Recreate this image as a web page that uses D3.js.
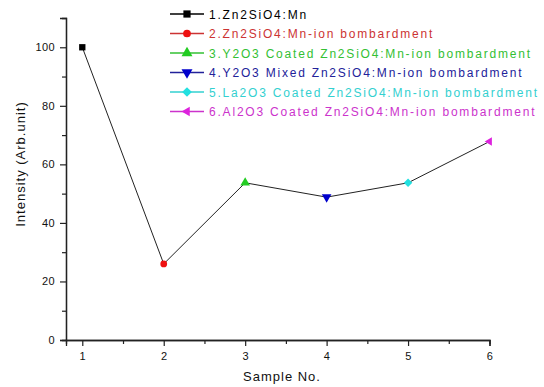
<!DOCTYPE html>
<html>
<head>
<meta charset="utf-8">
<script src="https://cdn.jsdelivr.net/npm/d3@7"></script>
<style>
  body { margin: 0; background: #fff; }
  text { font-family: "Liberation Sans", Arial, sans-serif; }
</style>
</head>
<body>
<div id="chart"></div>
<script>
// data
var samples = [1, 2, 3, 4, 5, 6];
var intensity = [100, 26, 53.7, 48.8, 53.7, 67.8];
var labels = [
  "1.Zn2SiO4:Mn",
  "2.Zn2SiO4:Mn-ion bombardment",
  "3.Y2O3 Coated Zn2SiO4:Mn-ion bombardment",
  "4.Y2O3 Mixed Zn2SiO4:Mn-ion bombardment",
  "5.La2O3 Coated Zn2SiO4:Mn-ion bombardment",
  "6.Al2O3 Coated Zn2SiO4:Mn-ion bombardment"
];
var markerColors = ["#000000", "#ee1111", "#22cc22", "#0000cc", "#22e0e0", "#dd22dd"];
var textColors = ["#000000", "#cc3333", "#33c033", "#22229a", "#33d0d0", "#cc33cc"];
var xTicks = [1, 2, 3, 4, 5, 6];
var yTicks = [0, 20, 40, 60, 80, 100];

var width = 544, height = 387;

var svg = d3.select("#chart").append("svg")
    .attr("width", width)
    .attr("height", height);

var x = d3.scaleLinear().domain([0.8, 6]).range([66, 489.5]);
var y = d3.scaleLinear().domain([0, 110]).range([340, 18]);

// symbols for each sample (diamond = rotated square)
var shapes = [
  { type: d3.symbolSquare, rot: 0, size: 40 },
  { type: d3.symbolCircle, rot: 0, size: 36 },
  { type: d3.symbolTriangle, rot: 0, size: 40 },
  { type: d3.symbolTriangle, rot: 180, size: 40 },
  { type: d3.symbolSquare, rot: 45, size: 36 },
  { type: d3.symbolTriangle, rot: -90, size: 30 }
];

// axes
var yAxis = d3.axisLeft(y).tickValues(yTicks).tickSize(6).tickPadding(5);
var yMinor = d3.axisLeft(y).tickValues([10, 30, 50, 70, 90]).tickSize(4).tickFormat("");
var xAxis = d3.axisBottom(x).tickValues(xTicks).tickSize(6).tickPadding(6).tickFormat(d3.format("d"));
var xMinor = d3.axisBottom(x).tickValues([1.5, 2.5, 3.5, 4.5, 5.5]).tickSize(4).tickFormat("");

function styleAxis(g) {
  g.select(".domain").attr("stroke", "#222").attr("stroke-width", 1.3);
  g.selectAll(".tick line").attr("stroke", "#222").attr("stroke-width", 1.2);
  g.selectAll(".tick text")
    .attr("font-size", 11)
    .attr("fill", "#111")
    .style("letter-spacing", "0.4px")
    .style("font-family", "'Liberation Sans', Arial, sans-serif");
}

svg.append("g").attr("transform", "translate(66,0)").call(yMinor).call(styleAxis);
svg.append("g").attr("transform", "translate(66,0)").call(yAxis).call(styleAxis);
svg.append("g").attr("transform", "translate(0,340)").call(xMinor).call(styleAxis);
svg.append("g").attr("transform", "translate(0,340)").call(xAxis).call(styleAxis);

// axis titles
svg.append("text")
    .attr("x", 282).attr("y", 381)
    .attr("text-anchor", "middle")
    .attr("font-size", 13)
    .style("letter-spacing", "1px")
    .attr("fill", "#111")
    .text("Sample No.");

svg.append("text")
    .attr("transform", "translate(25,164) rotate(-90)")
    .attr("text-anchor", "middle")
    .attr("font-size", 13)
    .style("letter-spacing", "1px")
    .attr("fill", "#111")
    .text("Intensity (Arb.unit)");

// connecting line
var line = d3.line()
    .x(function(d, i) { return x(samples[i]); })
    .y(function(d) { return y(d); });

svg.append("path")
    .datum(intensity)
    .attr("fill", "none")
    .attr("stroke", "#222")
    .attr("stroke-width", 1)
    .attr("d", line);

// markers
svg.selectAll(".pt")
    .data(intensity)
    .enter().append("path")
    .attr("class", "pt")
    .attr("d", function(d, i) { return d3.symbol().type(shapes[i].type).size(shapes[i].size)(); })
    .attr("transform", function(d, i) {
      return "translate(" + x(samples[i]) + "," + y(d) + ") rotate(" + shapes[i].rot + ")";
    })
    .attr("fill", function(d, i) { return markerColors[i]; });

// legend
var legend = svg.append("g");
var rows = legend.selectAll(".row")
    .data(labels)
    .enter().append("g")
    .attr("class", "row")
    .attr("transform", function(d, i) { return "translate(0," + (14 + i * 19.5) + ")"; });

rows.append("line")
    .attr("x1", 170).attr("x2", 204)
    .attr("stroke", function(d, i) { return textColors[i]; })
    .attr("stroke-width", 1.3);

rows.append("path")
    .attr("d", function(d, i) { return d3.symbol().type(shapes[i].type).size(shapes[i].size * 1.3)(); })
    .attr("transform", function(d, i) { return "translate(187,0) rotate(" + shapes[i].rot + ")"; })
    .attr("fill", function(d, i) { return markerColors[i]; });

rows.append("text")
    .attr("x", 209).attr("y", 4.5)
    .attr("font-size", 12)
    .style("letter-spacing", "1.8px")
    .attr("fill", function(d, i) { return textColors[i]; })
    .text(function(d) { return d; });
</script>
</body>
</html>
